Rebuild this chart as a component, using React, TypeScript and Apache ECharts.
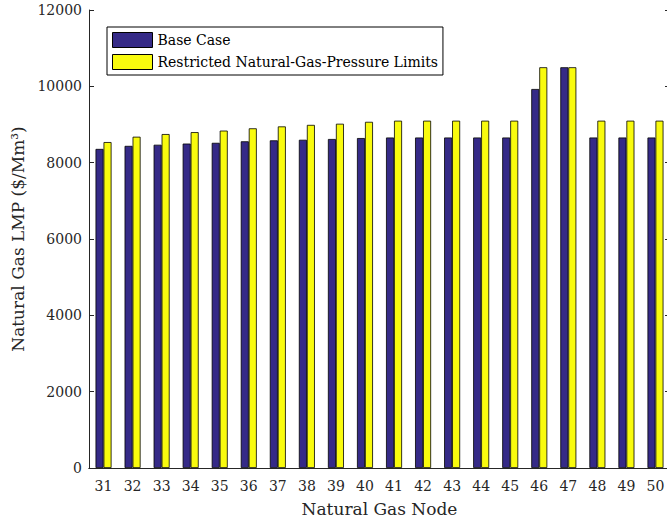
import React, { useEffect, useRef } from "react";
import * as echarts from "echarts";

const categories = ["31","32","33","34","35","36","37","38","39","40","41","42","43","44","45","46","47","48","49","50"];
const baseCase = [8360,8440,8470,8500,8520,8560,8585,8600,8620,8645,8660,8660,8660,8660,8660,9930,10500,8660,8660,8660];
const restricted = [8540,8680,8750,8800,8840,8900,8950,8990,9020,9070,9100,9100,9100,9100,9100,10500,10500,9100,9100,9100];
const seriesNames = ["Base Case", "Restricted Natural-Gas-Pressure Limits"];

const FONT = "DejaVu Serif";
const AX = "#262626";

export default function App() {
  const ref = useRef<HTMLDivElement>(null);
  useEffect(() => {
    if (!ref.current) return;
    const chart = echarts.init(ref.current, undefined, { renderer: "svg" });
    chart.setOption({
      animation: false,
      textStyle: { fontFamily: FONT },
      grid: { left: 89, top: 10, width: 581, height: 458, containLabel: false, outerBoundsMode: "none" },
      legend: {
        orient: "vertical",
        left: 107,
        top: 27,
        icon: "rect",
        itemWidth: 40,
        itemHeight: 15,
        itemGap: 6,
        padding: [5, 5, 5, 5],
        borderColor: "#000",
        borderWidth: 1,
        borderRadius: 0,
        backgroundColor: "#fff",
        itemStyle: { borderColor: "#000", borderWidth: 1 },
        textStyle: { fontFamily: FONT, fontSize: 14, color: "#000" },
        data: seriesNames,
      },
      xAxis: [
        {
          type: "category",
          data: categories,
          position: "bottom",
          name: "Natural Gas Node",
          nameLocation: "middle",
          nameGap: 32,
          nameTextStyle: { fontFamily: FONT, fontSize: 17, color: "#262626" },
          axisLine: { lineStyle: { color: AX } },
          axisTick: { inside: true, alignWithLabel: true, length: 5, lineStyle: { color: AX } },
          axisLabel: { fontFamily: FONT, fontSize: 14, color: "#262626", margin: 11 },
        },
        {
          type: "category",
          data: categories,
          position: "top",
          axisLine: { lineStyle: { color: AX } },
          axisTick: { inside: true, alignWithLabel: true, length: 5, lineStyle: { color: AX } },
          axisLabel: { show: false },
        },
      ],
      yAxis: [
        {
          type: "value",
          min: 0,
          max: 12000,
          interval: 2000,
          position: "left",
          name: "Natural Gas LMP ($/Mm³)",
          nameLocation: "middle",
          nameGap: 62,
          nameTextStyle: { fontFamily: FONT, fontSize: 17, color: "#262626" },
          axisLine: { show: true, lineStyle: { color: AX } },
          axisTick: { show: true, inside: true, length: 5, lineStyle: { color: AX } },
          axisLabel: { fontFamily: FONT, fontSize: 14, color: "#262626", margin: 7, formatter: (v: number) => String(v) },
          splitLine: { show: false },
        },
        {
          type: "value",
          min: 0,
          max: 12000,
          interval: 2000,
          position: "right",
          axisLine: { show: true, lineStyle: { color: AX } },
          axisTick: { show: true, inside: true, length: 5, lineStyle: { color: AX } },
          axisLabel: { show: false },
          splitLine: { show: false },
        },
      ],
      series: [
        {
          name: seriesNames[0],
          type: "bar",
          data: baseCase,
          barWidth: 8,
          barGap: "0%",
          itemStyle: { color: "#352A87", borderColor: "#000", borderWidth: 0.8 },
        },
        {
          name: seriesNames[1],
          type: "bar",
          data: restricted,
          barWidth: 8,
          barGap: "0%",
          itemStyle: { color: "#F9FB0E", borderColor: "#000", borderWidth: 0.8 },
        },
      ],
    });
    return () => chart.dispose();
  }, []);
  return <div ref={ref} style={{ width: 667, height: 520, position: "absolute", left: 0, top: 0 }} />;
}
